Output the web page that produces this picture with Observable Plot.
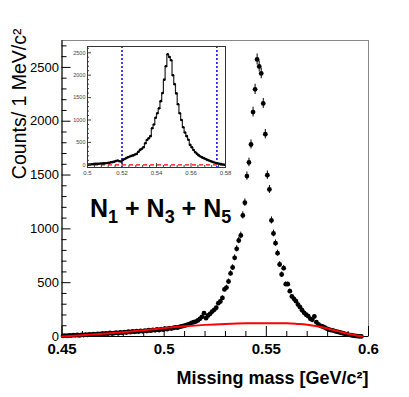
<!DOCTYPE html>
<html><head><meta charset="utf-8">
<script src="https://cdn.jsdelivr.net/npm/d3@7"></script>
<script src="https://cdn.jsdelivr.net/npm/@observablehq/plot@0.6"></script>
<style>
html,body{margin:0;padding:0;background:#fff;}
#chart{position:relative;width:409px;height:397px;}
#chart svg{position:absolute;left:0;top:0;}
#chart svg.inset{left:67px;top:43px;}
</style></head><body><div id="chart"></div>
<script>
// Main histogram: bin centres (GeV/c^2) and counts per 1 MeV/c^2
const mass = [
0.4505,0.4515,0.4525,0.4535,0.4545,0.4555,0.4565,0.4575,0.4585,0.4595,
0.4605,0.4615,0.4625,0.4635,0.4645,0.4655,0.4665,0.4675,0.4685,0.4695,
0.4705,0.4715,0.4725,0.4735,0.4745,0.4755,0.4765,0.4775,0.4785,0.4795,
0.4805,0.4815,0.4825,0.4835,0.4845,0.4855,0.4865,0.4875,0.4885,0.4895,
0.4905,0.4915,0.4925,0.4935,0.4945,0.4955,0.4965,0.4975,0.4985,0.4995,
0.5005,0.5015,0.5025,0.5035,0.5045,0.5055,0.5065,0.5075,0.5085,0.5095,
0.5105,0.5115,0.5125,0.5135,0.5145,0.5155,0.5165,0.5175,0.5185,0.5195,
0.5205,0.5215,0.5225,0.5235,0.5245,0.5255,0.5265,0.5275,0.5285,0.5295,
0.5305,0.5315,0.5325,0.5335,0.5345,0.5355,0.5365,0.5375,0.5385,0.5395,
0.5405,0.5415,0.5425,0.5435,0.5445,0.5455,0.5465,0.5475,0.5485,0.5495,
0.5505,0.5515,0.5525,0.5535,0.5545,0.5555,0.5565,0.5575,0.5585,0.5595,
0.5605,0.5615,0.5625,0.5635,0.5645,0.5655,0.5665,0.5675,0.5685,0.5695,
0.5705,0.5715,0.5725,0.5735,0.5745,0.5755,0.5765,0.5775,0.5785,0.5795,
0.5805,0.5815,0.5825,0.5835,0.5845,0.5855,0.5865,0.5875,0.5885,0.5895,
0.5905,0.5915,0.5925,0.5935,0.5945,0.5955,0.5965];
const counts = [
5,8,6,10,9,12,11,14,10,16,
13,18,15,20,17,22,19,24,21,27,
23,29,26,33,28,31,36,30,38,34,
41,37,44,40,47,43,49,46,52,48,
55,51,58,54,62,57,66,60,69,63,
72,68,78,74,80,85,82,90,94,99,
104,110,118,127,133,139,149,164,183,217,
170,195,211,232,248,267,310,325,358,437,
455,511,586,641,731,815,892,939,1125,1243,
1490,1617,1784,2085,2296,2574,2509,2444,2165,1880,
1499,1366,1078,957,867,774,669,576,635,486,
486,421,372,350,328,297,272,244,220,202,
189,164,155,186,133,112,99,93,84,74,
65,60,56,50,45,40,35,30,25,20,
16,12,8,5,3,2,1];

// Background fit (red curve)
const bgMass   = [0.45,0.46,0.47,0.48,0.49,0.50,0.51,0.52,0.53,0.54,0.55,0.56,0.565,0.57,0.575,0.58,0.585,0.59,0.595,0.597];
const bgCounts = [0,12,25,40,58,78,95,108,117,123,124,122,117,110,96,75,50,26,7,0];

// Inset: background-subtracted histogram
const insetMass = [
0.5005,0.5015,0.5025,0.5035,0.5045,0.5055,0.5065,0.5075,0.5085,0.5095,
0.5105,0.5115,0.5125,0.5135,0.5145,0.5155,0.5165,0.5175,0.5185,0.5195,
0.5205,0.5215,0.5225,0.5235,0.5245,0.5255,0.5265,0.5275,0.5285,0.5295,
0.5305,0.5315,0.5325,0.5335,0.5345,0.5355,0.5365,0.5375,0.5385,0.5395,
0.5405,0.5415,0.5425,0.5435,0.5445,0.5455,0.5465,0.5475,0.5485,0.5495,
0.5505,0.5515,0.5525,0.5535,0.5545,0.5555,0.5565,0.5575,0.5585,0.5595,
0.5605,0.5615,0.5625,0.5635,0.5645,0.5655,0.5665,0.5675,0.5685,0.5695,
0.5705,0.5715,0.5725,0.5735,0.5745,0.5755,0.5765,0.5775,0.5785,0.5795];
const insetCounts = [
5,8,12,15,20,22,25,28,30,32,
35,40,45,55,60,70,85,95,80,75,
110,130,150,170,185,200,210,230,244,290,
333,360,393,480,555,590,640,815,900,1050,
1150,1260,1420,1600,1900,2200,2467,2407,2333,2000,
1800,1593,1350,1150,1000,837,720,640,560,444,
390,330,280,245,210,185,165,148,130,110,
96,80,65,52,40,30,22,15,8,2];
const insetCuts = [0.52, 0.575];

// Axis ticks and labels
const xTicks = [0.45,0.5,0.55,0.6];
const xTickLabels = ["0.45","0.5","0.55","0.6"];
const xMinorTicks = [0.46,0.47,0.48,0.49,0.51,0.52,0.53,0.54,0.56,0.57,0.58,0.59];
const yTicks = [0,500,1000,1500,2000,2500];
const yTickLabels = ["0","500","1000","1500","2000","2500"];
const yMinorTicks = [100,200,300,400,600,700,800,900,1100,1200,1300,1400,1600,1700,1800,1900,2100,2200,2300,2400,2600,2700];
const insetXTicks = [0.5,0.52,0.54,0.56,0.58];
const insetXTickLabels = ["0.5","0.52","0.54","0.56","0.58"];
const insetXMinor = [0.504,0.508,0.512,0.516,0.524,0.528,0.532,0.536,0.544,0.548,0.552,0.556,0.564,0.568,0.572,0.576];
const insetYTicks = [0,500,1000,1500,2000,2500];
const insetYTickLabels = ["0","500","1000","1500","2000","2500"];
const insetYMinor = [100,200,300,400,600,700,800,900,1100,1200,1300,1400,1600,1700,1800,1900,2100,2200,2300,2400,2600];

const xTitle = "Missing mass [GeV/c²]";
const yTitle = "Counts/ 1 MeV/c²";

const FONT = '"Liberation Sans", Arial, Helvetica, sans-serif';
const mainData = mass.map((m, i) => ({m, c: counts[i]}));
const bgData = bgMass.map((m, i) => ({m, c: bgCounts[i]}));
const insetData = insetMass.map((m, i) => ({m, c: insetCounts[i]}));

const main = Plot.plot({
  width: 409, height: 397,
  marginLeft: 61.5, marginRight: 41, marginTop: 40, marginBottom: 61,
  style: {fontFamily: FONT, background: "transparent", overflow: "visible", color: "#000"},
  x: {domain: [0.45, 0.6]},
  y: {domain: [0, 2750]},
  marks: [
    Plot.frame({stroke: "#888"}),
    Plot.axisY({ticks: yMinorTicks, tickSize: -5, fill: "none", label: null}),
    Plot.axisY({ticks: yTicks, tickSize: -9, fill: "none", label: null}),
    Plot.axisY({ticks: yTicks, tickSize: 0, tickPadding: 3, fontSize: 13, tickFormat: (d, i) => yTickLabels[i], label: null}),
    Plot.axisX({ticks: xMinorTicks, tickSize: -5, fill: "none", label: null}),
    Plot.axisX({ticks: xTicks, tickSize: -10, fill: "none", label: null}),
    Plot.axisX({ticks: xTicks, tickSize: 0, tickPadding: 7, fontSize: 15, fontWeight: "bold", tickFormat: (d, i) => xTickLabels[i], label: null}),
    Plot.ruleX([0.45], {stroke: "#000"}),
    Plot.ruleY([0], {stroke: "#000"}),
    Plot.ruleX(mainData, {x: "m", y1: d => d.c - Math.sqrt(d.c), y2: d => d.c + Math.sqrt(d.c), stroke: "#000", strokeWidth: 1}),
    Plot.dot(mainData, {x: "m", y: "c", r: 2.4, fill: "#000", stroke: "none"}),
    Plot.line(bgData, {x: "m", y: "c", stroke: "#f00", strokeWidth: 2, curve: "catmull-rom"}),
    Plot.text([xTitle], {frameAnchor: "bottom-right", textAnchor: "end", lineAnchor: "bottom", dy: 47, fontSize: 18, fontWeight: "bold", fill: "#000"}),
    Plot.text([yTitle], {frameAnchor: "top-left", rotate: -90, textAnchor: "end", lineAnchor: "middle", dx: -42.7, dy: -12, fontSize: 19.5, fill: "#000"})
  ]
});

const inset = Plot.plot({
  width: 161, height: 136,
  marginLeft: 20, marginRight: 3, marginTop: 3, marginBottom: 12,
  style: {fontFamily: FONT, background: "transparent", overflow: "visible", color: "#000"},
  x: {domain: [0.5, 0.58]},
  y: {domain: [-60, 2640]},
  marks: [
    Plot.frame({fill: "white", stroke: "none"}),
    Plot.ruleY([0], {stroke: "#f00", strokeDasharray: "4,3", strokeWidth: 1.2}),
    Plot.ruleX(insetCuts, {stroke: "#00f", strokeDasharray: "2,2", strokeWidth: 1.5}),
    Plot.line(insetData, {x: "m", y: "c", curve: "step", stroke: "#222", strokeWidth: 1.2}),
    Plot.dot(insetData, {x: "m", y: "c", r: 1.3, fill: "#000", stroke: "none"}),
    Plot.axisY({ticks: insetYMinor, tickSize: -2, fill: "none", label: null, stroke: "#444"}),
    Plot.axisY({ticks: insetYTicks, tickSize: -4, fill: "none", label: null, stroke: "#444"}),
    Plot.axisY({ticks: insetYTicks, tickSize: 0, tickPadding: 2, fontSize: 5.5, fill: "#444", tickFormat: (d, i) => insetYTickLabels[i], label: null}),
    Plot.axisX({ticks: insetXMinor, tickSize: -2, fill: "none", label: null, stroke: "#444"}),
    Plot.axisX({ticks: insetXTicks, tickSize: -4, fill: "none", label: null, stroke: "#444"}),
    Plot.axisX({ticks: insetXTicks, tickSize: 0, tickPadding: 3, fontSize: 6, fill: "#444", tickFormat: (d, i) => insetXTickLabels[i], label: null}),
    Plot.frame({stroke: "#333"})
  ]
});
inset.setAttribute("class", (inset.getAttribute("class") || "") + " inset");

const chart = document.getElementById("chart");
chart.appendChild(main);
chart.appendChild(inset);

// Label with subscripts
const lbl = d3.select(main).append("text")
  .attr("x", 90).attr("y", 217).attr("text-anchor", "start")
  .attr("font-family", FONT).attr("font-weight", "bold").attr("font-size", 25).attr("fill", "#000");
const parts = [["N","1"],["N","3"],["N","5"]];
parts.forEach((p, i) => {
  lbl.append("tspan").text(p[0]);
  lbl.append("tspan").attr("font-size", 18).attr("dy", 6).text(p[1]);
  lbl.append("tspan").attr("dy", -6).text(i < parts.length - 1 ? " + " : "");
});
</script></body></html>
